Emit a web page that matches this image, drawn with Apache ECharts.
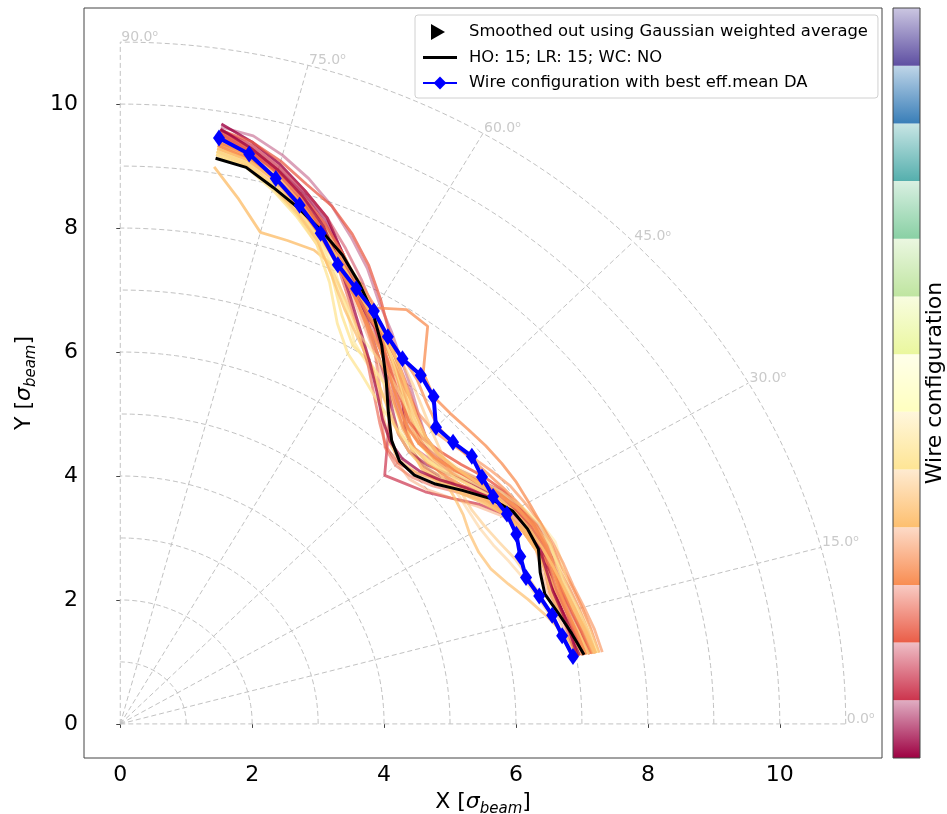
<!DOCTYPE html>
<html><head><meta charset="utf-8">
<script src="https://cdn.jsdelivr.net/npm/echarts@6/dist/echarts.min.js"></script>
<style>html,body{margin:0;padding:0;background:#fff}#c{width:947px;height:814px}</style>
</head><body><div id="c"></div>
<script>
// ---------------- data ----------------
const angleDeg = [9,12,15,18,21,24,27,30,33,36,39,42,45,48,51,54,57,60,63,66,69,72,75,78,81];
const xTickValues = [0,2,4,6,8,10];
const yTickValues = [0,2,4,6,8,10];
const gridRadii = [1,2,3,4,5,6,7,8,9,10,11];
const gridAngles = [0,15,30,45,60,75,90];

const smoothedName = 'Smoothed out using Gaussian weighted average';
const referenceName = 'HO: 15; LR: 15; WC: NO';
const referenceRadius = [7.12,7.00,6.88,6.77,6.82,6.94,6.93,6.87,6.68,6.41,6.15,6.00,5.99,6.15,6.46,6.86,7.28,7.66,7.98,8.28,8.52,8.75,8.96,9.18,9.24];
const bestName = 'Wire configuration with best eff.mean DA';
const bestRadius = [6.95,6.85,6.78,6.68,6.59,6.64,6.74,6.77,6.74,6.78,6.86,6.79,6.77,7.10,7.24,7.28,7.45,7.69,7.88,8.11,8.48,8.80,9.11,9.40,9.57];

// colour-bar value of each wire configuration
const wireConfig = [0.29,0.93,1.43,1.71,2.36,2.71,3.36,3.64,3.86,4.29,4.64,4.43,5.29,5.57,5.79,4.86,3.57,2.57,1.93,0.64,3.29,4.5,5.43,2.29,4.71,3.79,
                    5.36,3.43,4.36,2.5,0.43,5.71,3.14,4.14];
const wireRadius = [
 [7.12,7.02,6.95,6.92,6.98,7.05,7.02,6.90,6.70,6.45,6.30,6.20,6.25,6.45,6.80,7.10,7.35,7.55,7.80,8.30,8.75,9.05,9.35,9.60,9.80],
 [7.20,7.15,7.10,7.05,7.10,7.15,7.10,7.00,6.90,6.70,6.55,6.50,6.55,6.75,7.00,7.25,7.55,7.85,8.25,8.60,8.95,9.25,9.50,9.70,9.75],
 [7.05,6.98,6.90,6.85,6.90,6.95,6.90,6.75,6.50,6.20,5.95,5.80,5.67,6.05,6.50,6.90,7.25,7.60,7.95,8.30,8.60,8.90,9.20,9.45,9.65],
 [7.25,7.20,7.15,7.10,7.05,7.00,6.95,6.85,6.75,6.60,6.45,6.35,6.30,6.40,6.65,6.95,7.30,7.70,8.05,8.40,8.75,9.05,9.30,9.55,9.70],
 [7.30,7.25,7.20,7.15,7.10,7.05,7.00,6.95,6.85,6.70,6.50,6.40,6.45,6.60,6.85,7.15,7.50,7.90,8.30,8.65,8.95,9.15,9.40,9.60,9.70],
 [7.15,7.05,6.95,6.90,6.95,7.00,6.95,6.80,6.60,6.35,6.10,5.95,5.90,6.00,6.30,6.70,7.10,7.45,7.80,8.15,8.50,8.80,9.10,9.40,9.60],
 [7.35,7.30,7.25,7.20,7.15,7.15,7.15,7.15,7.16,7.15,7.13,7.10,7.08,7.10,7.30,7.93,7.97,7.75,8.00,8.25,8.55,8.85,9.15,9.40,9.55],
 [7.20,7.12,7.05,7.00,7.02,7.05,7.00,6.90,6.75,6.55,6.40,6.30,6.30,6.45,6.70,7.00,7.30,7.60,7.90,8.20,8.50,8.80,9.10,9.35,9.50],
 [7.00,6.92,6.85,6.82,6.85,6.90,6.85,6.70,6.45,6.20,6.00,5.90,5.95,6.15,6.45,6.80,7.10,7.40,7.75,8.10,8.45,8.75,9.05,9.30,9.45],
 [7.10,7.00,6.90,6.85,6.90,6.95,6.90,6.75,6.55,6.35,6.20,6.15,6.25,6.50,6.80,7.10,7.35,7.60,7.85,8.05,8.19,8.20,8.21,8.65,9.10],
 [7.30,7.22,7.15,7.10,7.10,7.12,7.08,6.98,6.85,6.65,6.50,6.45,6.50,6.65,6.90,7.15,7.40,7.65,7.95,8.25,8.55,8.85,9.10,9.30,9.40],
 [7.05,6.90,6.70,6.50,6.30,6.15,6.10,6.12,6.20,6.25,6.30,6.35,6.45,6.60,6.85,7.10,7.35,7.60,7.85,8.15,8.45,8.75,9.00,9.25,9.35],
 [7.25,7.15,7.10,7.05,7.05,7.08,7.02,6.92,6.78,6.60,6.42,6.32,6.30,6.40,6.60,6.80,6.95,7.05,7.40,7.90,8.35,8.65,8.95,9.20,9.30],
 [7.15,7.08,7.00,6.95,6.98,7.02,6.98,6.85,6.65,6.45,6.30,6.22,6.25,6.35,6.50,6.70,6.90,7.10,7.55,8.00,8.40,8.70,9.00,9.25,9.35],
 [7.35,7.28,7.20,7.15,7.18,7.22,7.15,7.02,6.88,6.72,6.58,6.50,6.52,6.65,6.88,7.12,7.38,7.65,7.95,8.28,8.60,8.88,9.12,9.32,9.42],
 [6.95,6.85,6.75,6.65,6.55,6.45,6.35,6.30,6.30,6.32,6.35,6.40,6.50,6.65,6.85,7.05,7.25,7.50,7.80,8.10,8.40,8.70,8.95,9.20,9.25],
 [7.40,7.35,7.28,7.22,7.20,7.18,7.15,7.10,7.05,6.95,6.85,6.75,6.70,6.75,6.90,7.10,7.35,7.60,7.90,8.20,8.50,8.80,9.10,9.35,9.50],
 [7.00,6.95,6.92,6.90,6.95,7.00,6.98,6.88,6.72,6.50,6.25,6.05,5.95,6.02,6.25,6.55,6.90,7.25,7.65,8.10,8.55,8.90,9.20,9.45,9.60],
 [7.20,7.12,7.05,7.02,7.05,7.10,7.08,7.00,6.88,6.72,6.55,6.45,6.42,6.50,6.70,6.95,7.25,7.55,7.90,8.25,8.65,9.00,9.30,9.55,9.70],
 [7.05,7.00,6.95,6.92,6.95,7.00,6.98,6.90,6.78,6.60,6.40,6.25,6.20,6.30,6.55,6.85,7.15,7.50,7.90,8.30,8.70,9.00,9.25,9.50,9.70],
 [7.28,7.20,7.12,7.05,7.00,6.92,6.85,6.75,6.62,6.48,6.35,6.28,6.30,6.42,6.62,6.88,7.15,7.45,7.80,8.15,8.50,8.80,9.10,9.35,9.50],
 [7.10,7.00,6.92,6.88,6.90,6.92,6.88,6.78,6.62,6.42,6.20,6.05,6.00,6.10,6.35,6.65,6.95,7.25,7.60,7.95,8.30,8.65,8.95,9.20,9.30],
 [7.32,7.25,7.18,7.12,7.12,7.12,7.05,6.95,6.80,6.62,6.45,6.38,6.40,6.55,6.80,7.08,7.38,7.68,7.98,8.30,8.62,8.92,9.18,9.38,9.45],
 [7.22,7.15,7.08,7.02,7.02,7.05,7.05,7.00,6.92,6.80,6.65,6.55,6.50,6.55,6.75,7.00,7.30,7.62,7.95,8.30,8.65,8.95,9.25,9.50,9.65],
 [6.98,6.88,6.78,6.70,6.62,6.55,6.45,6.38,6.35,6.38,6.45,6.55,6.68,6.85,7.05,7.25,7.45,7.70,7.95,8.25,8.55,8.85,9.10,9.30,9.40],
 [7.12,7.05,7.00,6.95,6.92,6.90,6.85,6.78,6.68,6.55,6.45,6.40,6.42,6.55,6.78,7.05,7.32,7.60,7.90,8.20,8.52,8.82,9.10,9.35,9.48],
 [7.18,7.10,7.02,6.98,7.00,7.02,6.98,6.88,6.72,6.55,6.40,6.30,6.28,6.32,6.42,6.55,6.72,6.90,7.25,7.80,8.30,8.62,8.92,9.18,9.30],
 [7.25,7.18,7.10,7.05,7.05,7.08,7.08,7.02,6.95,6.88,6.82,6.78,6.80,6.95,7.15,7.30,7.40,7.55,7.85,8.20,8.55,8.85,9.12,9.38,9.50],
 [7.20,7.10,7.00,6.95,6.92,6.90,6.85,6.75,6.58,6.40,6.25,6.18,6.20,6.30,6.48,6.70,6.95,7.20,7.50,7.90,8.35,8.70,9.00,9.25,9.35],
 [7.10,7.05,7.00,6.96,6.98,7.02,7.00,6.92,6.80,6.65,6.52,6.48,6.55,6.72,6.95,7.18,7.40,7.62,7.85,8.15,8.55,8.90,9.20,9.45,9.60],
 [7.02,6.98,6.94,6.90,6.92,6.96,6.95,6.86,6.70,6.48,6.25,6.10,6.05,6.12,6.32,6.62,6.95,7.30,7.70,8.15,8.60,8.95,9.25,9.50,9.72],
 [7.28,7.20,7.12,7.08,7.10,7.15,7.12,7.02,6.88,6.70,6.55,6.48,6.50,6.62,6.78,6.95,7.10,7.25,7.55,7.95,8.40,8.72,9.00,9.25,9.35],
 [7.15,7.08,7.02,7.00,7.02,7.06,7.04,6.96,6.84,6.68,6.52,6.42,6.40,6.48,6.68,6.95,7.22,7.48,7.78,8.10,8.45,8.78,9.08,9.32,9.45],
 [7.30,7.22,7.14,7.08,7.04,7.00,6.95,6.88,6.78,6.66,6.55,6.50,6.55,6.70,6.92,7.18,7.42,7.62,7.88,8.18,8.50,8.80,9.08,9.30,9.40]
];
const colorbarBins = [0,1,2,3,4,5,6,7,8,9,10,11,12];
const spectralColors = ['#9e0142','#cc344d','#ea5d47','#f88d52','#fdbf6f','#fee594','#ffffbf','#eaf79e','#bfe5a0','#89d0a4','#55afad','#397eb8','#5e4fa2'];

// ---------------- helpers ----------------
const FONT = 'DejaVu Sans';
const rad = d => d * Math.PI / 180;
const toXY = (r, d) => [r * Math.cos(rad(d)), r * Math.sin(rad(d))];
function rgba(hex, a) {
  const n = parseInt(hex.slice(1), 16);
  return 'rgba(' + (n >> 16) + ',' + ((n >> 8) & 255) + ',' + (n & 255) + ',' + a + ')';
}
const ALPHA_MIN = 0.32;
function cfgColor(v) {
  const b = Math.min(12, Math.floor(v));
  return rgba(spectralColors[b], (1 - (1 - ALPHA_MIN) * (v - b)).toFixed(3));
}
const GRID_COLOR = '#c2c2c2';

const series = [];
// polar grid: circles
gridRadii.forEach(r => {
  const pts = [];
  for (let d = 0; d <= 90; d += 1) pts.push(toXY(r, d));
  series.push({type:'line', data:pts, symbol:'none', silent:true, z:1,
    lineStyle:{color:GRID_COLOR, width:1, type:[5,3]}});
});
// polar grid: radial lines
gridAngles.forEach(d => {
  series.push({type:'line', data:[[0,0], toXY(gridRadii[gridRadii.length-1], d)], symbol:'none', silent:true, z:1,
    lineStyle:{color:GRID_COLOR, width:1, type:[5,3]}});
});
// angle labels
series.push({type:'scatter', symbolSize:0, silent:true, z:1,
  data: gridAngles.map(d => ({value: toXY(gridRadii[gridRadii.length-1], d), deg:d})),
  label:{show:true, position:[1,3], align:'left', verticalAlign:'bottom',
    formatter: p => '{a|' + p.data.deg.toFixed(1) + '}{o|o}',
    rich:{a:{fontFamily:FONT, fontSize:14, color:'#bdbdbd', lineHeight:16},
          o:{fontFamily:FONT, fontSize:9, color:'#bdbdbd', verticalAlign:'top', lineHeight:9}}}
});
// wire configurations
wireRadius.forEach((rs, i) => {
  series.push({type:'line', name:'wire' + i, data: rs.map((r, k) => toXY(r, angleDeg[k])), symbol:'none', z:2,
    lineStyle:{color: cfgColor(wireConfig[i]), width:2.8}, silent:true});
});
// legend-only series
series.push({type:'line', name:smoothedName, data:[], color:'#000', symbol:'none'});
// reference (smoothed)
series.push({type:'line', name:referenceName, data: referenceRadius.map((r, k) => toXY(r, angleDeg[k])), symbol:'none', z:3,
  color:'#000', lineStyle:{color:'#000', width:3}});
// best configuration
series.push({type:'line', name:bestName, data: bestRadius.map((r, k) => toXY(r, angleDeg[k])), z:4,
  color:'#0000ff', symbol:'diamond', symbolSize:[12,17], itemStyle:{color:'#0000ff'}, lineStyle:{color:'#0000ff', width:4}});
// colour bar
series.push({type:'custom', xAxisIndex:1, yAxisIndex:1, z:-1, silent:true, data: colorbarBins.map(b => [b]),
  renderItem: (params, api) => {
    const b = api.value(0);
    const p0 = api.coord([0, b]), p1 = api.coord([1, b + 1]);
    const c = spectralColors[b];
    return {type:'rect', shape:{x:p0[0], y:p1[1], width:p1[0]-p0[0], height:p0[1]-p1[1]},
      style:{fill: new echarts.graphic.LinearGradient(0,0,0,1,[{offset:0,color:rgba(c,ALPHA_MIN)},{offset:1,color:rgba(c,1)}])}};
  }});

const nameRich = {
  n:{fontFamily:FONT, fontSize:22, color:'#000', lineHeight:30},
  s:{fontFamily:FONT, fontSize:22, fontStyle:'italic', color:'#000', lineHeight:30},
  b:{fontFamily:FONT, fontSize:15, fontStyle:'italic', color:'#000', lineHeight:16, verticalAlign:'bottom'}
};
const axisCommon = {
  type:'value', min:-0.55, max:11.55,
  splitLine:{show:false},
  axisLine:{show:false},
  axisTick:{show:true, length:4, lineStyle:{color:'#444'}},
  axisLabel:{fontFamily:FONT, fontSize:22, color:'#000', margin:6},
  nameLocation:'middle'
};

const option = {
  animation:false,
  backgroundColor:'#fff',
  grid:[
    {left:84, right:65, top:8, bottom:56, show:true, borderColor:'#444', borderWidth:1, backgroundColor:'transparent', outerBoundsMode:'none', containLabel:false},
    {left:893, width:27, top:8, bottom:56, show:true, borderColor:'#444', borderWidth:1, backgroundColor:'transparent', outerBoundsMode:'none', containLabel:false}
  ],
  xAxis:[
    Object.assign({}, axisCommon, {gridIndex:0, position:'bottom',
      axisTick:Object.assign({}, axisCommon.axisTick, {customValues:xTickValues}),
      axisLabel:Object.assign({}, axisCommon.axisLabel, {customValues:xTickValues}),
      name:'{n|X [}{s|σ}{b|beam}{n|]}', nameGap:27, nameTextStyle:{rich:nameRich}}),
    {type:'value', gridIndex:1, min:0, max:1, show:false}
  ],
  yAxis:[
    Object.assign({}, axisCommon, {gridIndex:0, position:'left',
      axisTick:Object.assign({}, axisCommon.axisTick, {customValues:yTickValues}),
      axisLabel:Object.assign({}, axisCommon.axisLabel, {customValues:yTickValues}),
      name:'{n|Y [}{s|σ}{b|beam}{n|]}', nameGap:32, nameRotate:90, nameTextStyle:{rich:nameRich}}),
    {type:'value', gridIndex:1, min:0, max:13, position:'right', splitLine:{show:false},
      axisLine:{show:false}, axisTick:{show:false}, axisLabel:{show:false},
      name:'Wire configuration', nameLocation:'middle', nameRotate:90, nameGap:4,
      nameTextStyle:{fontFamily:FONT, fontSize:22, color:'#000', verticalAlign:'top'}}
  ],
  legend:{
    orient:'vertical', left:415, top:15, padding:[7,10,5,7],
    itemWidth:34, itemHeight:16, itemGap:5.5,
    backgroundColor:'rgba(255,255,255,0.85)', borderColor:'#d0d0d0', borderWidth:1, borderRadius:3,
    selectedMode:false,
    itemStyle:{borderWidth:0},
    textStyle:{fontFamily:FONT, fontSize:16.4, color:'#000', lineHeight:20, padding:[0,0,0,7]},
    data:[
      {name:smoothedName, icon:'path://M0,0L0.01,0L0,0.01Z M8,0L22,8L8,16Z M34,16L33.99,16L34,15.99Z', itemStyle:{color:'#000'}},
      {name:referenceName, icon:'path://M0,0L0.01,0L0,0.01Z M0,6.5L34,6.5L34,9.5L0,9.5Z M34,16L33.99,16L34,15.99Z', itemStyle:{color:'#000'}},
      {name:bestName}
    ]
  },
  series: series
};
const chart = echarts.init(document.getElementById('c'), null, {renderer:'canvas'});
chart.setOption(option);
</script>
</body></html>
